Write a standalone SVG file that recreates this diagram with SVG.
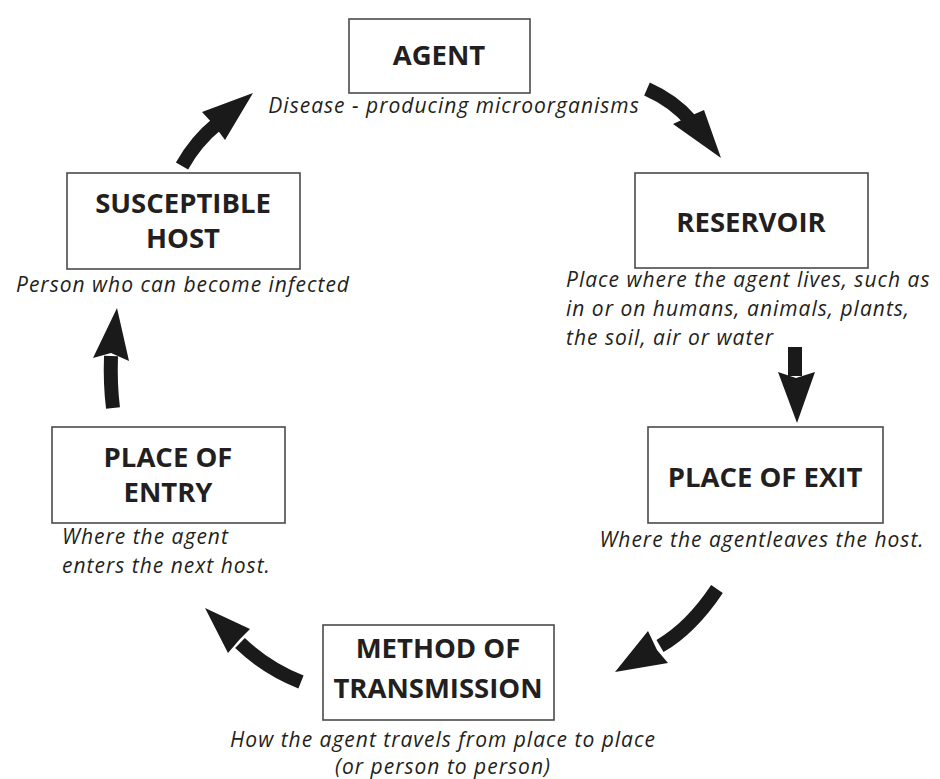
<svg xmlns="http://www.w3.org/2000/svg" width="940" height="779" viewBox="0 0 940 779">
<style>
.box{fill:#fff;stroke:#4a4a4a;stroke-width:1.6}
.t{font-family:"Open Sans","Noto Sans","Liberation Sans",sans-serif;font-weight:bold;font-size:27.5px;fill:#231f20;text-anchor:middle}
.c{font-family:"Open Sans","Noto Sans","Liberation Sans",sans-serif;font-style:italic;font-size:21px;letter-spacing:1px;fill:#231f20}
.m{text-anchor:middle}
.shaft{fill:none;stroke:#1a1a1a;stroke-width:14}
.head{fill:#1a1a1a}
</style>
<rect width="940" height="779" fill="#fff"/>
<g id="connectors">
  <path class="shaft" d="M182,166 Q196,141 217,124"/>
  <polygon class="head" points="202,112 253,93 225,140 214,125"/>
  <path class="shaft" d="M647,89 Q674,101 691,121"/>
  <polygon class="head" points="673,124 721,158 704,110 688,117"/>
  <path class="shaft" d="M795,347 L795,376"/>
  <polygon class="head" points="778,372 797,423 815,372 796,378"/>
  <path class="shaft" d="M717,589 Q691,628 660,646"/>
  <polygon class="head" points="648,631 615,672 668,663 657,650"/>
  <path class="shaft" d="M301,682 Q266,668 240,643"/>
  <polygon class="head" points="250,629 205,608 228,653 240,639"/>
  <path class="shaft" d="M113,408 Q110,384 111,356"/>
  <polygon class="head" points="93,358 117,308 129,361 111,353"/>
</g>
<g id="agent">
  <rect class="box" x="349" y="19" width="181" height="74"/>
  <text class="t" x="439" y="65">AGENT</text>
  <text class="c m" x="454" y="113">Disease - producing microorganisms</text>
</g>
<g id="reservoir">
  <rect class="box" x="635" y="173" width="233" height="95"/>
  <text class="t" x="751" y="232">RESERVOIR</text>
  <text class="c" x="566" y="287">Place where the agent lives, such as</text>
  <text class="c" x="566" y="316">in or on humans, animals, plants,</text>
  <text class="c" x="566" y="345">the soil, air or water</text>
</g>
<g id="place-of-exit">
  <rect class="box" x="648" y="427" width="235" height="96"/>
  <text class="t" x="765" y="487">PLACE OF EXIT</text>
  <text class="c m" x="762" y="547">Where the agentleaves the host.</text>
</g>
<g id="method-of-transmission">
  <rect class="box" x="323" y="625" width="231" height="95"/>
  <text class="t" x="438" y="658">METHOD OF</text>
  <text class="t" x="438" y="698">TRANSMISSION</text>
  <text class="c m" x="443" y="747">How the agent travels from place to place</text>
  <text class="c m" x="443" y="774">(or person to person)</text>
</g>
<g id="place-of-entry">
  <rect class="box" x="52" y="427" width="233" height="96"/>
  <text class="t" x="168" y="467">PLACE OF</text>
  <text class="t" x="168" y="502">ENTRY</text>
  <text class="c" x="62" y="544">Where the agent</text>
  <text class="c" x="62" y="573">enters the next host.</text>
</g>
<g id="susceptible-host">
  <rect class="box" x="67" y="173" width="233" height="96"/>
  <text class="t" x="183" y="213">SUSCEPTIBLE</text>
  <text class="t" x="183" y="248">HOST</text>
  <text class="c m" x="183" y="292">Person who can become infected</text>
</g>
</svg>
